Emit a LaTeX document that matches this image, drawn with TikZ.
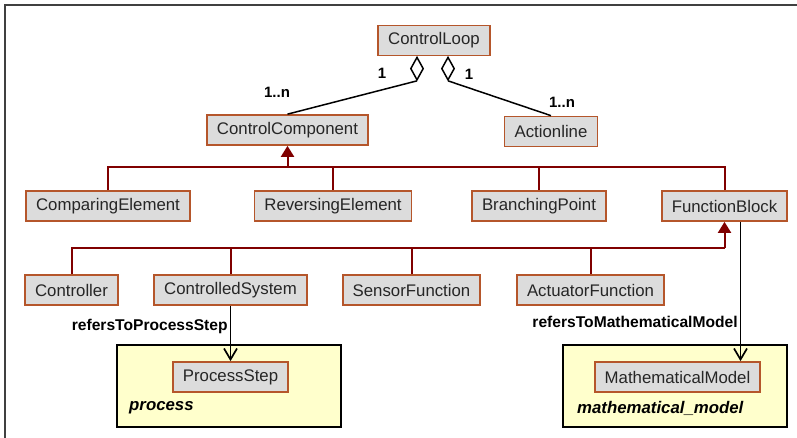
\documentclass[tikz,border=0pt]{standalone}
\usepackage{fontspec}
\setmainfont{Liberation Sans}
\usepackage{tikz}
\usetikzlibrary{arrows.meta, shapes.geometric}
\definecolor{boxfill}{HTML}{DCDCDC}
\definecolor{boxedge}{HTML}{B5562B}
\definecolor{inhred}{HTML}{800000}
\definecolor{pkgfill}{HTML}{FFFFCC}
\tikzset{
	classbox/.style={draw=boxedge, fill=boxfill, line width=1.7pt,
			minimum height=30pt, inner xsep=10pt, inner ysep=0pt,
			font=\fontsize{16.8}{20}\selectfont, text=black!85}
}
\tikzset{
	pkgbox/.style={draw=black, fill=pkgfill, line width=1.6pt,
			minimum width=224pt, minimum height=82pt}
}
\tikzset{
	pkglabel/.style={font=\fontsize{16.8}{20}\selectfont\bfseries\itshape, anchor=west, inner sep=0pt}
}
\tikzset{
	multlabel/.style={font=\fontsize{15}{18}\selectfont\bfseries, inner sep=0pt}
}
\tikzset{
	rolelabel/.style={font=\fontsize{15.6}{18}\selectfont\bfseries, inner sep=2pt}
}
\tikzset{
	inherit/.style={draw=inhred, line width=2pt}
}
\tikzset{
	aggrdiamond/.style={diamond, draw, fill=white, line width=1.5pt, aspect=0.55,
			minimum width=13pt, minimum height=23pt, inner sep=0pt, anchor=north}
}

\begin{document}
\begin{tikzpicture}[x=1pt, y=-1pt]

	\useasboundingbox (0,0) rectangle (797,438);
	\draw[line width=2pt, black!75] (5,438) -- (5,5) -- (797,5);

	% packages
	\begin{scope}
		\node[pkgbox] (pkgproc) at (229,386) {};
		\node[pkgbox] (pkgmath) at (675,386) {};
		\node[pkglabel] (lproc) at (129,408) {process};
		\node[pkglabel] (lmath) at (577,408) {mathematical\_model};
	\end{scope}

	% classes
	\begin{scope}
		\node[classbox] (cl) at (434,40.5) {ControlLoop};
		\node[classbox] (cc) at (287.5,130) {ControlComponent};
		\node[classbox] (al) at (551,131.5) {Actionline};

		\node[classbox] (ce) at (108,206) {ComparingElement};
		\node[classbox] (re) at (333,206) {ReversingElement};
		\node[classbox] (bp) at (539,206) {BranchingPoint};
		\node[classbox] (fb) at (724.5,206) {FunctionBlock};

		\node[classbox] (ctl) at (71.5,290) {Controller};
		\node[classbox] (cs) at (230.5,290) {ControlledSystem};
		\node[classbox] (sf) at (411.5,290) {SensorFunction};
		\node[classbox] (af) at (590.5,290) {ActuatorFunction};

		\node[classbox] (ps) at (230.5,377) {ProcessStep};
		\node[classbox] (mm) at (677.5,377) {MathematicalModel};
	\end{scope}

	% aggregation
	\begin{scope}
		\node[aggrdiamond] (dA) at ([xshift=-17pt]cl.south) {};
		\node[aggrdiamond] (dB) at ([xshift=14pt]cl.south) {};
		\draw[line width=1.5pt] (dA.south) -- (cc.north);
		\draw[line width=1.5pt] (dB.south) -- (al.north);

		\node[multlabel] (mA1) at (382,73) {1};
		\node[multlabel] (mAn) at (277,92) {1..n};
		\node[multlabel] (mB1) at (469,74) {1};
		\node[multlabel] (mBn) at (562,102) {1..n};
	\end{scope}

	% generalization
	\begin{scope}
		\coordinate (busA) at (287.5,167);
		\coordinate (busB) at (724.5,248);

		\draw[inherit] (ce.north) |- (busA);
		\draw[inherit] (re.north) |- (busA);
		\draw[inherit] (bp.north) |- (busA);
		\draw[inherit] (fb.north) |- (busA);
		\draw[inherit, -{Triangle[width=13pt, length=11pt]}] (busA) -- (cc.south);

		\draw[inherit] (ctl.north) |- (busB);
		\draw[inherit] (cs.north) |- (busB);
		\draw[inherit] (sf.north) |- (busB);
		\draw[inherit] (af.north) |- (busB);
		\draw[inherit, -{Triangle[width=13pt, length=11pt]}] (busB) -- (fb.south);
	\end{scope}

	% references
	\begin{scope}
		\coordinate (fbout) at ([xshift=16pt]fb.south);
		\draw[line width=1.7pt, -{Straight Barb[width=13pt, length=11pt]}]
		(cs.south) -- node[rolelabel, pos=0.38, left] (rps) {refersToProcessStep} (ps.north);
		\draw[line width=1.7pt, -{Straight Barb[width=13pt, length=11pt]}]
		(fbout) -- node[rolelabel, pos=0.72, left] (rmm) {refersToMathematicalModel} (fbout |- mm.north);
	\end{scope}

\end{tikzpicture}
\end{document}
